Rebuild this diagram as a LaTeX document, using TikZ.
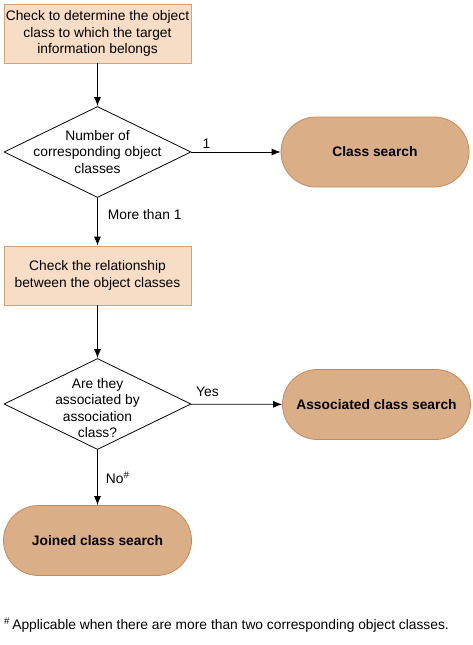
\documentclass[tikz,border=0pt]{standalone}
\usepackage{fontspec}
\setmainfont{Liberation Sans}
\usepackage{tikz}
\usetikzlibrary{arrows.meta,positioning,shapes.geometric}
\definecolor{boxfill}{RGB}{248,221,198}
\definecolor{boxline}{RGB}{214,162,112}
\definecolor{ovalfill}{RGB}{218,175,135}
\definecolor{ovalline}{RGB}{196,138,88}

\begin{document}
\begin{tikzpicture}
[x=1pt,y=-1pt,font=\fontsize{13.8}{16.5}\selectfont,
box/.style={rectangle,draw=boxline,fill=boxfill,line width=0.8pt,align=center,minimum width=187pt,minimum height=59pt,inner sep=0pt},
decision/.style={diamond,draw=black,line width=0.8pt,minimum width=187pt,minimum height=91pt,inner sep=0pt},
terminal/.style={rectangle,rounded corners=35pt,draw=ovalline,fill=ovalfill,line width=0.8pt,minimum width=188pt,minimum height=70pt,font=\fontsize{13.8}{16.5}\selectfont\bfseries},
flow/.style={line width=0.8pt,-{Latex[length=9pt,width=7pt]}}]

\useasboundingbox (0,0) rectangle (473,645);

\node[box] (A) at (97.5,33.5) {Check to determine the object\\class to which the target\\information belongs};

\node[decision] (B) at (97.5,152) [label={[align=center]center:{Number of\\corresponding object\\classes}}] {};

\node[terminal] (C) at (375,152) {Class search};

\node[box] (D) at (97.5,275.5) {Check the relationship\\between the object classes};

\node[decision] (E) at (97.5,404) [label={[align=center,yshift=-4pt]center:{Are they\\associated by\\association\\class?}}] {};

\node[terminal] (F) at (376.5,404.5) {Associated class search};

\node[terminal] (G) at (97.5,540.5) {Joined class search};

\node[anchor=west,inner sep=0pt] (N) at (4,625) {\textsuperscript{\#}\,Applicable when there are more than two corresponding object classes.};

\draw[flow] (A) -- (B);
\draw[flow] (B) -- node[pos=0.17,above] {1} (C);
\draw[flow] (B) -- node[pos=0.35,right=10pt,inner sep=0pt] {More than 1} (D);
\draw[flow] (D) -- (E);
\draw[flow] (E) -- node[pos=0.18,above,yshift=4pt] {Yes} (F);
\draw[flow] (E) -- node[pos=0.51,right=8pt,inner sep=0pt] {No\textsuperscript{\#}} (G);
\end{tikzpicture}
\end{document}
